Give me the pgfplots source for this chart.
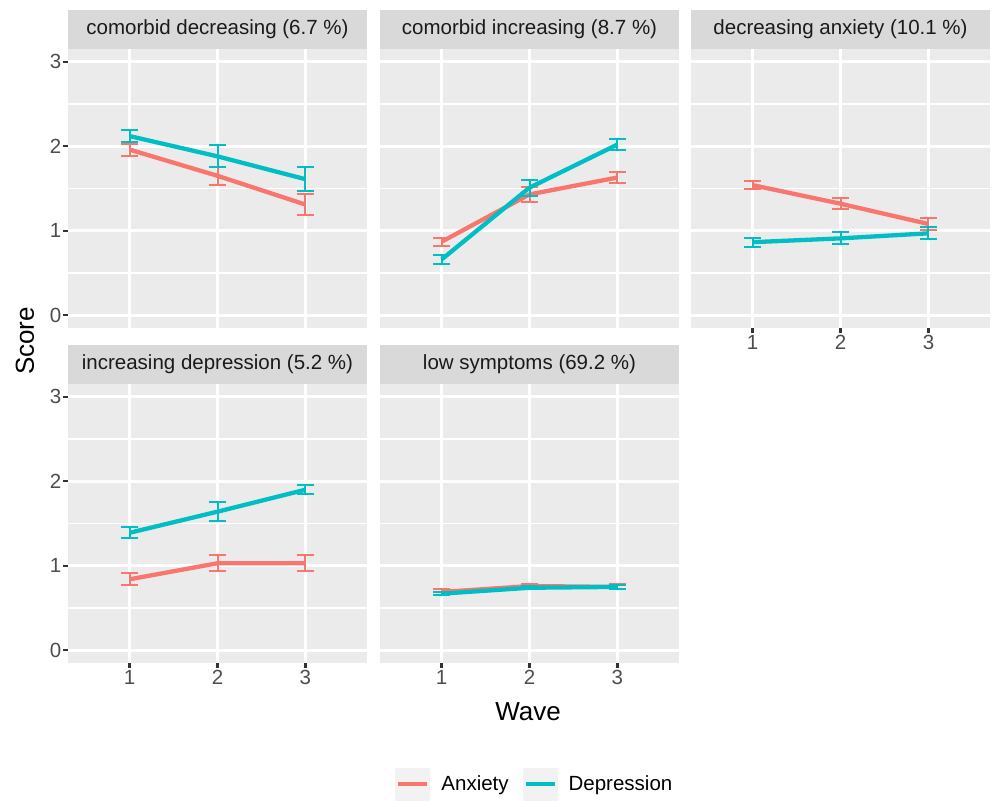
\documentclass[border=0pt]{standalone}
\usepackage{fontspec}
\setmainfont{Liberation Sans}
\usepackage{pgfplots}
\usepackage{pgfplotstable}
\pgfplotsset{compat=1.18}
\definecolor{anx}{HTML}{F8766D}
\definecolor{dep}{HTML}{00BFC4}
\definecolor{panelbg}{HTML}{EBEBEB}
\definecolor{stripbg}{HTML}{D9D9D9}
\definecolor{keybg}{HTML}{F2F2F2}
\definecolor{tickcol}{HTML}{333333}
\definecolor{ticktext}{HTML}{4D4D4D}
\definecolor{striptext}{HTML}{1A1A1A}
\newcommand\tickfont{\fontsize{20.5bp}{24bp}\selectfont}
\newcommand\titlefont{\fontsize{26bp}{30bp}\selectfont}

% columns: wave, anxiety mean, anxiety half-CI, depression mean, depression half-CI
\pgfplotstableread{
x a ae d de
1 1.96 0.07 2.12 0.07
2 1.65 0.11 1.88 0.13
3 1.31 0.12 1.61 0.14
}\cdec
\pgfplotstableread{
x a ae d de
1 0.87 0.05 0.66 0.055
2 1.43 0.085 1.51 0.095
3 1.63 0.065 2.02 0.065
}\cinc
\pgfplotstableread{
x a ae d de
1 1.54 0.05 0.865 0.055
2 1.32 0.065 0.91 0.07
3 1.08 0.075 0.97 0.07
}\danx
\pgfplotstableread{
x a ae d de
1 0.84 0.07 1.39 0.065
2 1.03 0.095 1.64 0.115
3 1.03 0.095 1.90 0.05
}\idep
\pgfplotstableread{
x a ae d de
1 0.69 0.03 0.67 0.02
2 0.76 0.03 0.74 0.02
3 0.75 0.03 0.75 0.02
}\lsym

\tikzset{
  strip/.style={fill=stripbg, minimum width=299bp, minimum height=39bp,
    inner sep=0pt, anchor=south, font=\tickfont, text=striptext},
}
\pgfplotsset{
  panel/.style={
    scale only axis, width=299bp, height=279bp,
    xmin=0.3, xmax=3.7, ymin=-0.15, ymax=3.15,
    xtick={1,2,3}, ytick={0,1,2,3}, minor ytick={0.5,1.5,2.5},
    xmajorgrids, ymajorgrids, yminorgrids,
    major grid style={white, line width=2.7bp},
    minor grid style={white, line width=1.4bp},
    axis background/.style={fill=panelbg},
    axis line style={draw=none},
    tick align=outside, xtick pos=bottom, ytick pos=left,
    major tick length=5bp, minor tick length=0pt,
    tick style={color=tickcol, line width=2.2bp},
    ticklabel style={font=\tickfont, text=ticktext},
    yticklabel style={inner sep=1.5bp},
    xticklabel style={inner sep=2bp},
    /pgf/number format/assume math mode=true,
    clip=false,
    every axis plot/.append style={line width=4.3bp, mark=none},
    error bars/y dir=both, error bars/y explicit,
  },
  A/.style={anx,
    error bars/error bar style={anx, line width=2bp},
    error bars/error mark options={anx, line width=2bp, mark size=8.5bp, rotate=90}},
  D/.style={dep,
    error bars/error bar style={dep, line width=2bp},
    error bars/error mark options={dep, line width=2bp, mark size=8.5bp, rotate=90}},
  noxt/.style={xticklabels={}, xtick style={draw=none}},
  noyt/.style={yticklabels={}, ytick style={draw=none}},
}

\begin{document}
\begin{tikzpicture}
\useasboundingbox (0,0) rectangle (992bp,803bp);

% row 1
\begin{axis}[panel, noxt, at={(68bp,475bp)}]
  \addplot[A] table[x=x, y=a, y error=ae] {\cdec};
  \addplot[D] table[x=x, y=d, y error=de] {\cdec};
  \node[strip] at (rel axis cs:0.5,1) {comorbid decreasing (6.7 \%)};
\end{axis}
\begin{axis}[panel, noxt, noyt, at={(380bp,475bp)}]
  \addplot[A] table[x=x, y=a, y error=ae] {\cinc};
  \addplot[D] table[x=x, y=d, y error=de] {\cinc};
  \node[strip] at (rel axis cs:0.5,1) {comorbid increasing (8.7 \%)};
\end{axis}
\begin{axis}[panel, noyt, at={(691bp,475bp)}]
  \addplot[A] table[x=x, y=a, y error=ae] {\danx};
  \addplot[D] table[x=x, y=d, y error=de] {\danx};
  \node[strip] at (rel axis cs:0.5,1) {decreasing anxiety (10.1 \%)};
\end{axis}

% row 2
\begin{axis}[panel, at={(68bp,140bp)}]
  \addplot[A] table[x=x, y=a, y error=ae] {\idep};
  \addplot[D] table[x=x, y=d, y error=de] {\idep};
  \node[strip] at (rel axis cs:0.5,1) {increasing depression (5.2 \%)};
\end{axis}
\begin{axis}[panel, noyt, at={(380bp,140bp)},
  legend columns=2,
  legend style={at={(0.518,-0.434)}, anchor=center, draw=none, fill=none,
    font=\tickfont, text=black,
    /tikz/every odd column/.append style={column sep=9bp},
    /tikz/every even column/.append style={column sep=12bp}},
  legend image code/.code={
    \path[fill=keybg, draw=none] (0bp,-16.5bp) rectangle (35bp,16.5bp);
    \draw[line width=4.3bp] (3bp,0bp) -- (32bp,0bp);
  }]
  \addplot[A] table[x=x, y=a, y error=ae] {\lsym};
  \addplot[D] table[x=x, y=d, y error=de] {\lsym};
  \node[strip] at (rel axis cs:0.5,1) {low symptoms (69.2 \%)};
  \legend{Anxiety, Depression}
\end{axis}

\node[rotate=90, font=\titlefont] at (25bp,462bp) {Score};
\node[font=\titlefont] at (528bp,91bp) {Wave};
\end{tikzpicture}
\end{document}
